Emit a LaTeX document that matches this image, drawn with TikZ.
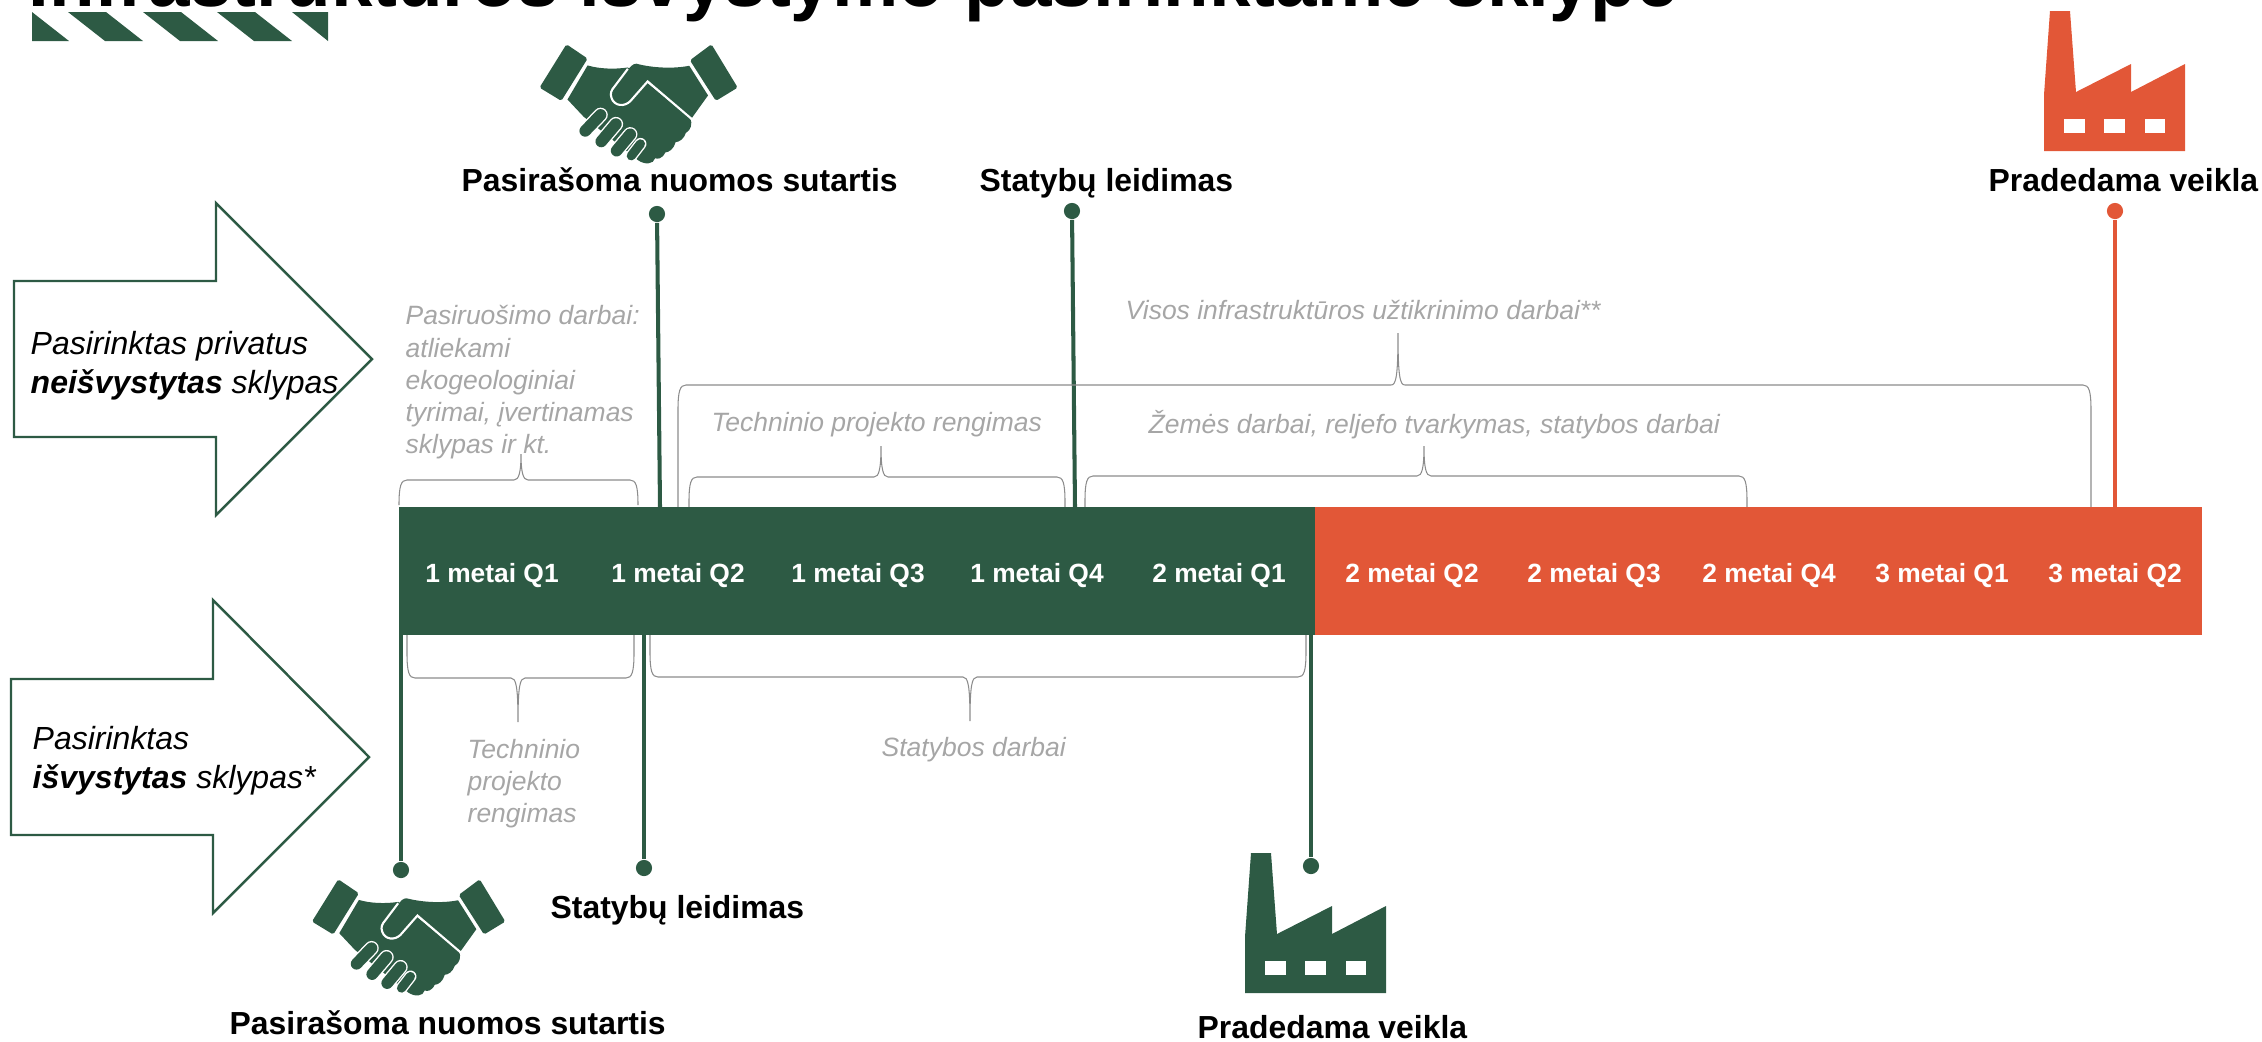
\documentclass[tikz,border=0pt]{standalone}
\usepackage{fontspec}
\setmainfont{Liberation Sans}
\definecolor{darkgreen}{HTML}{2D5A44}
\definecolor{redorange}{HTML}{E25737}
\definecolor{notegrey}{HTML}{A6A6A6}
\definecolor{bracegrey}{HTML}{8C8C8C}
\tikzset{
    titletext/.style={anchor=base west, inner sep=0pt, font=\bfseries\fontsize{21.2}{25}\selectfont},
    milestone/.style={anchor=base west, inner sep=0pt, font=\bfseries\fontsize{9.07}{11}\selectfont},
    quarter/.style={inner sep=0pt, text=white, font=\bfseries\fontsize{7.5}{9}\selectfont},
    note/.style={anchor=base west, inner sep=0pt, align=left, text=notegrey, font=\itshape\fontsize{7.53}{9.1}\selectfont},
    choice/.style={anchor=west, inner sep=0pt, align=left, font=\itshape\fontsize{9.1}{11}\selectfont},
    bigarrow/.style={draw=darkgreen, line width=0.7pt, fill=white},
    stem/.style={line width=1.15pt},
    dotgreen/.style={circle, fill=darkgreen, inner sep=0pt, minimum size=4.6pt},
    dotorange/.style={circle, fill=redorange, inner sep=0pt, minimum size=4.6pt},
    curly/.style={draw=bracegrey, line width=0.3pt},
    factory/.pic={
        \fill[pic actions] (6,-140) -- (26,-140) -- (32,-59) -- (87,-87) -- (87,-59) -- (141,-87) -- (141,0) -- (0,0) -- (0,-56) -- cycle;
        \fill[white] (20,-32) rectangle (41,-18);
        \fill[white] (60,-32) rectangle (81,-18);
        \fill[white] (101,-32) rectangle (121,-18);
    },
    handshake/.pic={
        \begin{scope}[x=0.003333cm, y=-0.003333cm]
            % Cuffs
            \fill[pic actions, rounded corners=0.5pt] (145,118) -- (207,160) -- (130,284) -- (66,245) -- cycle;
            \fill[pic actions, rounded corners=0.5pt] (570,118) -- (647,245) -- (583,284) -- (507,165) -- cycle;
            % Lower hand
            \fill[pic actions] (207,180) .. controls (240,190) and (285,192) .. (325,186) -- (383,232) -- (508,335) .. controls (515,350) and (510,370) .. (495,378) .. controls (490,395) and (475,405) .. (465,405) .. controls (460,425) and (445,435) .. (435,435) .. controls (425,455) and (412,455) .. (405,452) .. controls (400,470) and (375,472) .. (355,458) -- (195,330) -- (148,280) -- cycle;
            % Upper hand
            \fill[pic actions] (350,175) .. controls (400,188) and (460,190) .. (505,181) -- (560,268) -- (512,335) -- (383,227) -- (332,285) .. controls (315,302) and (285,300) .. (277,275) .. controls (272,262) and (277,252) .. (285,243) -- (322,197) .. controls (332,183) and (340,175) .. (350,175) -- cycle;
            \draw[white, line width=0.6pt] (512,337) -- (383,227) -- (332,285) .. controls (315,302) and (285,300) .. (277,275) .. controls (272,262) and (277,252) .. (285,243) -- (325,190);
            % Fingers
            \foreach \xa/\ya/\xb/\yb/\w in {245/325/200/372/3.3, 290/352/247/403/3.3, 332/382/292/430/3.3, 362/410/335/445/2.6} {
                \draw[white, line width=\w pt + 0.8pt, line cap=round] (\xa,\ya) -- (\xb,\yb);
                \draw[pic actions, draw=darkgreen, line width=\w pt, line cap=round] (\xa,\ya) -- (\xb,\yb);
            }
        \end{scope}
    },
}
% left, right, height of the bar, tip x, tip y, foot y, side
\newcommand{\curlybrace}[7]{
    \draw[curly] (#1,#6) -- (#1,{#3+#7*25}) .. controls (#1,{#3+#7*6}) and ({#1+2},#3) .. ({#1+8},#3) -- ({#4-7},#3) .. controls ({#4-2},#3) and (#4,{#3-#7*8}) .. (#4,#5) .. controls (#4,{#3-#7*8}) and ({#4+2},#3) .. ({#4+7},#3) -- ({#2-8},#3) .. controls ({#2-2},#3) and (#2,{#3+#7*6}) .. (#2,{#3+#7*25}) -- (#2,#6);
}

\begin{document}
\begin{tikzpicture}[x=0.01cm, y=-0.01cm]
    \useasboundingbox (0,0) rectangle (2262,1041);
    \clip (0,0) rectangle (2262,1041);

    % Title and stripes
    \node[titletext] (title) at (28,6) {Infrastruktūros išvystymo pasirinktame sklype};
    \fill[darkgreen] (32,12) -- (69,41) -- (32,41) -- cycle;
    \foreach \x in {68,143,217} {
        \fill[darkgreen] (\x,12) -- (\x+38,12) -- (\x+75,41) -- (\x+37,41) -- cycle;
    }
    \fill[darkgreen] (292,12) -- (328,12) -- (328,41) -- cycle;

    % Big arrows
    \draw[bigarrow] (14,281) -- (216,281) -- (216,203) -- (372,359) -- (216,515) -- (216,437) -- (14,437) -- cycle;
    \draw[bigarrow] (11,679) -- (213,679) -- (213,600) -- (369,757) -- (213,913) -- (213,835) -- (11,835) -- cycle;
    \node[choice] (choicetop) at (30,366) {Pasirinktas privatus\\\textbf{neišvystytas} sklypas};
    \node[choice] (choicebottom) at (32,761) {Pasirinktas\\\textbf{išvystytas} sklypas*};

    % Milestone stems
    \coordinate (leasebase) at (660,507);
    \coordinate (permitbase) at (1075,507);
    \coordinate (startbase) at (2115,507);
    \coordinate (leaselow) at (401,635);
    \coordinate (permitlow) at (644,635);
    \coordinate (startlow) at (1311,635);
    \node[dotgreen] (leasedot) at (657,214) {};
    \node[dotgreen] (permitdot) at (1072,211) {};
    \node[dotorange] (startdot) at (2115,211) {};
    \node[dotgreen] (leasedotlow) at (401,870) {};
    \node[dotgreen] (permitdotlow) at (644,868) {};
    \node[dotgreen] (startdotlow) at (1311,866) {};
    \draw[stem, darkgreen] (leasedot) -- (leasebase);
    \draw[stem, darkgreen] (permitdot) -- (permitbase);
    \draw[stem, redorange] (startdot) -- (startbase);
    \draw[stem, darkgreen] (leasedotlow) -- (leaselow);
    \draw[stem, darkgreen] (permitdotlow) -- (permitlow);
    \draw[stem, darkgreen] (startdotlow) -- (startlow);

    % Braces
    \curlybrace{399}{638}{480}{521}{454}{505}{1}
    \curlybrace{678}{2091}{385}{1398}{333}{507}{1}
    \curlybrace{689}{1065}{477}{881}{446}{507}{1}
    \curlybrace{1085}{1747}{476}{1424}{446}{507}{1}
    \curlybrace{407}{634}{678}{518}{722}{635}{-1}
    \curlybrace{650}{1306}{677}{970}{721}{635}{-1}

    % Timeline
    \fill[darkgreen] (399,507) rectangle (1315,635);
    \fill[redorange] (1315,507) rectangle (2202,635);
    \foreach \x/\t [count=\i] in {492/1 metai Q1, 678/1 metai Q2, 858/1 metai Q3, 1037/1 metai Q4, 1219/2 metai Q1, 1412/2 metai Q2, 1594/2 metai Q3, 1769/2 metai Q4, 1942/3 metai Q1, 2115/3 metai Q2} {
        \node[quarter] (q\i) at (\x,576) {\t};
    }

    % Notes
    \node[note, anchor=north west] (prepnote) at (405,305) {Pasiruošimo darbai:\\atliekami\\ekogeologiniai\\tyrimai, įvertinamas\\sklypas ir kt.};
    \node[note] (infranote) at (1125,319) {Visos infrastruktūros užtikrinimo darbai**};
    \node[note] (designnote) at (711,431) {Techninio projekto rengimas};
    \node[note] (earthnote) at (1148,433) {Žemės darbai, reljefo tvarkymas, statybos darbai};
    \node[note, anchor=north west] (designnotelow) at (467,739) {Techninio\\projekto\\rengimas};
    \node[note] (buildnote) at (881,756) {Statybos darbai};

    % Milestone labels
    \node[milestone] (leaselabel) at (461,191) {Pasirašoma nuomos sutartis};
    \node[milestone] (permitlabel) at (979,191) {Statybų leidimas};
    \node[milestone] (startlabel) at (1988,191) {Pradedama veikla};
    \node[milestone] (permitlabellow) at (550,918) {Statybų leidimas};
    \node[milestone] (leaselabellow) at (229,1034) {Pasirašoma nuomos sutartis};
    \node[milestone] (startlabellow) at (1197,1038) {Pradedama veikla};

    % Icons
    \pic[fill=darkgreen, scale=1.025] at (517,4) {handshake};
    \pic[fill=darkgreen] at (290,840) {handshake};
    \pic[fill=redorange] at (2044,151) {factory};
    \pic[fill=darkgreen] at (1245,993) {factory};
\end{tikzpicture}
\end{document}
